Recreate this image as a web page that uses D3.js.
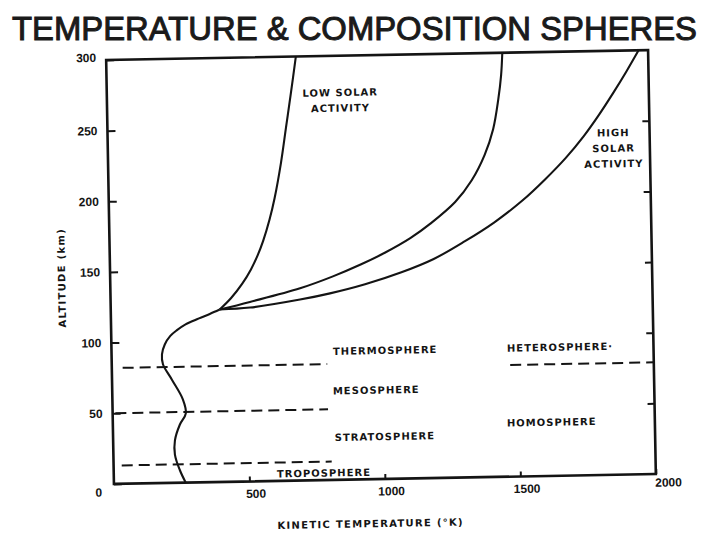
<!DOCTYPE html>
<html>
<head>
<meta charset="utf-8">
<script src="https://cdn.jsdelivr.net/npm/d3@7"></script>
<style>
  body { margin: 0; background: #fff; }
  svg { display: block; }
</style>
</head>
<body>
<svg id="svg"></svg>
<script>
// Temperature & composition spheres: altitude vs kinetic temperature

const width = 705;
const height = 535;

// tick values
const tempTicks = [0, 500, 1000, 1500, 2000];
const altTicks = [0, 50, 100, 150, 200, 250, 300];

// common profile below ~120 km (temperature K, altitude km)
const baseT = [265, 244, 227, 228, 247, 270, 260, 221, 189, 186, 197, 218, 243, 275, 325, 365, 402];
const baseAlt = [0, 9, 20, 30, 41, 49, 59, 73, 84, 91, 98, 104, 108, 112, 116, 119, 122];

// thermosphere branches
const lowT = [402, 445, 487, 520, 546, 567, 592, 612, 638, 659, 680, 700];
const lowAlt = [122, 130, 140, 150, 160, 170, 185, 200, 225, 250, 275, 300];

const midT = [402, 514, 700, 822, 925, 1015, 1110, 1185, 1278, 1340, 1390, 1423, 1444, 1456, 1462];
const midAlt = [122, 127, 136, 144, 152, 160, 170, 180, 195, 210, 228, 246, 267, 284, 300];

const highT = [402, 514, 699, 810, 940, 1075, 1195, 1310, 1420, 1525, 1612, 1690, 1757, 1815, 1868, 1918, 1965];
const highAlt = [122, 123, 128, 132, 138, 146, 155, 167, 180, 195, 210, 225, 240, 255, 270, 285, 300];

// dashed boundaries: tropopause, stratopause, mesopause, homopause
const boundaryAlt = [13, 50, 82, 79];
const boundaryFrom = [30, 10, 40, 1470];
const boundaryTo = [805, 795, 795, 2000];

const layerNames = ["TROPOSPHERE", "STRATOSPHERE", "MESOSPHERE", "THERMOSPHERE"];
const compositionNames = ["HOMOSPHERE", "HETEROSPHERE·"];

const svg = d3.select("#svg").attr("width", width).attr("height", height);

svg.append("rect").attr("width", width).attr("height", height).attr("fill", "#fff");

svg.append("text")
    .attr("x", 12)
    .attr("y", 40)
    .attr("font-family", "Liberation Sans, Arial, sans-serif")
    .attr("font-size", 33)
    .attr("fill", "#1a1a1a")
    .attr("stroke", "#1a1a1a")
    .attr("stroke-width", 1)
    .attr("textLength", 685)
    .attr("lengthAdjust", "spacingAndGlyphs")
    .text("TEMPERATURE & COMPOSITION SPHERES");

const margin = { top: 55, left: 110, bottom: 56, right: 53 };

const x = d3.scaleLinear()
    .domain([0, 2000])
    .range([margin.left, width - margin.right]);

const y = d3.scaleLinear()
    .domain([0, 300])
    .range([height - margin.bottom, margin.top]);

// the scanned figure sits slightly askew
const g = svg.append("g").attr("transform", "rotate(-1.05, 381, 267)");

const ink = "#141414";

// axes
const yAxis = g.append("g")
    .attr("transform", `translate(${x(0)},0)`)
    .call(d3.axisLeft(y).tickValues(altTicks).tickSize(-8).tickPadding(10));

const yAxisR = g.append("g")
    .attr("transform", `translate(${x(2000)},0)`)
    .call(d3.axisRight(y).tickValues(altTicks.slice(1, -1)).tickSize(-7).tickFormat(""));

const xAxis = g.append("g")
    .attr("transform", `translate(0,${y(0)})`)
    .call(d3.axisBottom(x).tickValues(tempTicks.slice(1)).tickSize(-5).tickPadding(8)
        .tickFormat(d3.format("d")));

[yAxis, yAxisR, xAxis].forEach((a) => {
    a.select(".domain").remove();
    a.selectAll("line").attr("stroke", ink).attr("stroke-width", 2);
    a.selectAll("text")
        .attr("fill", ink)
        .attr("font-family", "Liberation Sans, Arial, sans-serif")
        .attr("font-weight", "bold")
        .attr("font-size", 12);
});

xAxis.selectAll("text").attr("dx", 6);
xAxis.selectAll(".tick").filter((d) => d === 2000).select("text").attr("dx", 12).attr("dy", "0.4em");
yAxis.selectAll(".tick").filter((d) => d === 0).select("text").attr("dy", "1em").attr("dx", -2);
yAxis.selectAll(".tick").filter((d) => d === 300).select("text").attr("dy", "0.1em");

// frame
g.append("rect")
    .attr("x", x(0))
    .attr("y", y(300))
    .attr("width", x(2000) - x(0))
    .attr("height", y(0) - y(300))
    .attr("fill", "none")
    .attr("stroke", ink)
    .attr("stroke-width", 2.6);

// dashed boundaries
g.selectAll("line.boundary")
    .data(boundaryAlt)
    .join("line")
    .attr("class", "boundary")
    .attr("x1", (d, i) => x(boundaryFrom[i]))
    .attr("x2", (d, i) => x(boundaryTo[i]))
    .attr("y1", (d) => y(d))
    .attr("y2", (d) => y(d))
    .attr("stroke", ink)
    .attr("stroke-width", 2)
    .attr("stroke-dasharray", "11,6");

// temperature curves
const line = d3.line()
    .x((d) => x(d[0]))
    .y((d) => y(d[1]))
    .curve(d3.curveCatmullRom.alpha(0.5));

const curves = [
    d3.zip(baseT, baseAlt),
    d3.zip(lowT, lowAlt),
    d3.zip(midT, midAlt),
    d3.zip(highT, highAlt),
];

g.selectAll("path.profile")
    .data(curves)
    .join("path")
    .attr("class", "profile")
    .attr("d", line)
    .attr("fill", "none")
    .attr("stroke", ink)
    .attr("stroke-width", 2.1)
    .attr("stroke-linejoin", "round");

// labels
function label(txt, t, a, anchor) {
    g.append("text")
        .attr("x", x(t))
        .attr("y", y(a))
        .attr("dy", "0.36em")
        .attr("text-anchor", anchor || "start")
        .attr("font-family", "DejaVu Sans, sans-serif")
        .attr("font-weight", "bold")
        .attr("font-size", 10)
        .attr("letter-spacing", 1)
        .attr("fill", ink)
        .text(txt);
}

label(layerNames[0], 602, 5);
label(layerNames[1], 818, 30);
label(layerNames[2], 814, 63);
label(layerNames[3], 817, 91);
label(compositionNames[0], 1454, 38);
label(compositionNames[1], 1459, 91);

label("LOW SOLAR", 861, 274, "middle");
label("ACTIVITY", 861, 263, "middle");
label("HIGH", 1866, 242, "middle");
label("SOLAR", 1866, 231, "middle");
label("ACTIVITY", 1866, 220, "middle");

// axis titles
g.append("text")
    .attr("x", 366)
    .attr("y", 527)
    .attr("text-anchor", "middle")
    .attr("font-family", "DejaVu Sans, sans-serif")
    .attr("font-weight", "bold")
    .attr("font-size", 10)
    .attr("letter-spacing", 1.3)
    .attr("fill", ink)
    .text("KINETIC TEMPERATURE (°K)");

g.append("text")
    .attr("transform", "translate(65,272) rotate(-90)")
    .attr("text-anchor", "middle")
    .attr("font-family", "DejaVu Sans, sans-serif")
    .attr("font-weight", "bold")
    .attr("font-size", 10)
    .attr("letter-spacing", 1.3)
    .attr("fill", ink)
    .text("ALTITUDE (km)");
</script>
</body>
</html>
